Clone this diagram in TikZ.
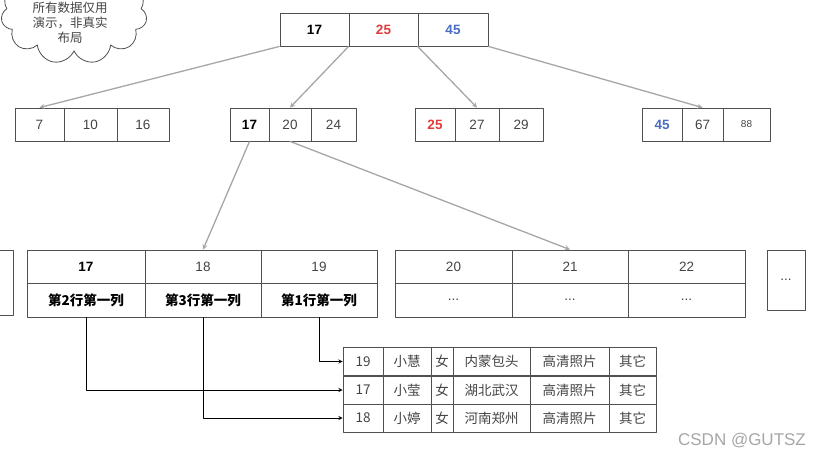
\documentclass[tikz,border=0pt]{standalone}
\usepackage{fontspec}
\setmainfont{Liberation Sans}
\newfontfamily\cjk{Noto Sans CJK SC}
\usetikzlibrary{shapes.symbols}
\definecolor{keyred}{HTML}{E03A3A}
\definecolor{keyblue}{HTML}{4A6DC0}
\definecolor{boxgray}{HTML}{505050}
\definecolor{txtgray}{HTML}{444444}
\tikzset{
  cell/.style={draw=boxgray, line width=0.8pt, inner sep=0pt, text=txtgray, font=\fontsize{13.5}{15}\selectfont},
  keycell/.style={cell, text=black, font=\fontsize{13.5}{15}\selectfont\bfseries},
  tabcell/.style={cell, minimum height=28, font=\fontsize{13.5}{15}\selectfont\cjk},
  ptr/.style={->, draw=gray!70, line width=1.3pt},
  rowptr/.style={->, draw=black, line width=0.9pt}
}
\begin{document}
\begin{tikzpicture}[x=1pt, y=-1pt, line join=round, >=stealth]
		\useasboundingbox (0,0) rectangle (821,460);
		\clip (0,0) rectangle (821,460);
		% note cloud
		\node[cloud, cloud puffs=11, draw=boxgray, line width=0.8pt, minimum width=146, minimum height=100] (note) at (74,14) {};
		\node[font=\fontsize{12.5}{15}\selectfont\cjk, align=center, text=txtgray] (notetext) at (70,23) {所有数据仅用\\演示，非真实\\布局};
		% root
		\node[keycell, minimum width=69, minimum height=33] (r1) at (314.5,29.5) {17};
		\node[keycell, minimum width=69, minimum height=33, text=keyred] (r2) at (383.5,29.5) {25};
		\node[keycell, minimum width=70, minimum height=33, text=keyblue] (r3) at (453,29.5) {45};
		% second level
		\node[cell, minimum width=49, minimum height=33] (a1) at (39.5,124.5) {7};
		\node[cell, minimum width=53, minimum height=33] (a2) at (90.5,124.5) {10};
		\node[cell, minimum width=52, minimum height=33] (a3) at (143,124.5) {16};
		\node[keycell, minimum width=39, minimum height=33] (b1) at (249.5,124.5) {17};
		\node[cell, minimum width=42, minimum height=33] (b2) at (290,124.5) {20};
		\node[cell, minimum width=45, minimum height=33] (b3) at (333.5,124.5) {24};
		\node[keycell, minimum width=40, minimum height=33, text=keyred] (c1) at (435,124.5) {25};
		\node[cell, minimum width=44, minimum height=33] (c2) at (477,124.5) {27};
		\node[cell, minimum width=44, minimum height=33] (c3) at (521,124.5) {29};
		\node[keycell, minimum width=40, minimum height=33, text=keyblue] (d1) at (662,124.5) {45};
		\node[cell, minimum width=41, minimum height=33] (d2) at (702.5,124.5) {67};
		\node[cell, minimum width=47, minimum height=33, font=\fontsize{10}{12}\selectfont] (d3) at (746.5,124.5) {88};
		\draw[ptr] (r1.south west) -- (a1.north);
		\draw[ptr] (r2.south west) -- (b2.north);
		\draw[ptr] (r3.south west) -- (c2.north);
		\draw[ptr] (r3.south east) -- (d2.north);
		% leaves
		\node[cell, minimum width=40, minimum height=65] (l0) at (-7,282.5) {...};
		\node[keycell, minimum width=118, minimum height=33] (l11) at (86,266.5) {17};
		\node[cell, minimum width=116, minimum height=33] (l12) at (203,266.5) {18};
		\node[cell, minimum width=116, minimum height=33] (l13) at (319,266.5) {19};
		\node[keycell, minimum width=118, minimum height=34, font=\fontsize{13.5}{15}\selectfont\cjk\bfseries] (l21) at (86,300) {第2行第一列};
		\node[keycell, minimum width=116, minimum height=34, font=\fontsize{13.5}{15}\selectfont\cjk\bfseries] (l22) at (203,300) {第3行第一列};
		\node[keycell, minimum width=116, minimum height=34, font=\fontsize{13.5}{15}\selectfont\cjk\bfseries] (l23) at (319,300) {第1行第一列};
		\node[cell, minimum width=117, minimum height=33] (m11) at (453.5,266.5) {20};
		\node[cell, minimum width=116, minimum height=33] (m12) at (570,266.5) {21};
		\node[cell, minimum width=117, minimum height=33] (m13) at (686.5,266.5) {22};
		\node[cell, minimum width=117, minimum height=34] (m21) at (453.5,300) {...};
		\node[cell, minimum width=116, minimum height=34] (m22) at (570,300) {...};
		\node[cell, minimum width=117, minimum height=34] (m23) at (686.5,300) {...};
		\node[cell, minimum width=38, minimum height=60] (m0) at (786,280) {...};
		\draw[ptr] (b1.south) -- (l12.north);
		\draw[ptr] (b2.south) -- (m12.north);
		% rows of the table
		\foreach \r/\y/\id/\nm/\city in {1/361.5/19/小慧/内蒙包头, 2/390/17/小莹/湖北武汉, 3/418/18/小婷/河南郑州}{
			\node[tabcell, minimum width=40] (t\r1) at (363,\y) {\id};
			\node[tabcell, minimum width=48] (t\r2) at (407,\y) {\nm};
			\node[tabcell, minimum width=22] (t\r3) at (442,\y) {女};
			\node[tabcell, minimum width=77] (t\r4) at (491.5,\y) {\city};
			\node[tabcell, minimum width=79] (t\r5) at (569.5,\y) {高清照片};
			\node[tabcell, minimum width=47] (t\r6) at (632.5,\y) {其它};
		}
		\draw[rowptr] (l23.south) |- (t11.west);
		\draw[rowptr] (l21.south) |- (t21.west);
		\draw[rowptr] (l22.south) |- (t31.west);
		\node[text=gray!70, font=\fontsize{17}{19}\selectfont] (mark) at (742,441) {CSDN @GUTSZ};
\end{tikzpicture}
\end{document}
